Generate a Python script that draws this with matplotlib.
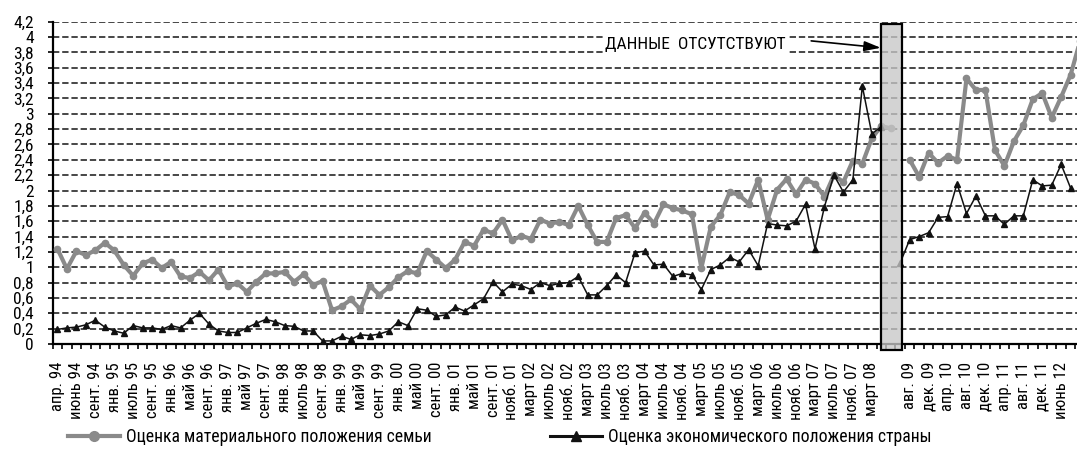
import numpy as np
import matplotlib
matplotlib.use("Agg")
import matplotlib.pyplot as plt
from matplotlib.lines import Line2D
from matplotlib.patches import Rectangle
import logging
logging.getLogger('matplotlib.font_manager').setLevel(logging.ERROR)

# ---------------- data ----------------
nan = np.nan
family_values = [
    1.24, 0.98, 1.21, 1.16, 1.22, 1.32, 1.22, 1.03, 0.89, 1.05,
    1.10, 0.99, 1.07, 0.88, 0.86, 0.94, 0.83, 0.97, 0.75, 0.79,
    0.68, 0.81, 0.92, 0.92, 0.94, 0.81, 0.91, 0.77, 0.82, 0.44,
    0.49, 0.58, 0.45, 0.76, 0.64, 0.74, 0.87, 0.95, 0.92, 1.21,
    1.10, 0.99, 1.10, 1.33, 1.28, 1.49, 1.44, 1.62, 1.35, 1.41,
    1.37, 1.62, 1.57, 1.59, 1.55, 1.80, 1.55, 1.33, 1.33, 1.64,
    1.68, 1.51, 1.71, 1.57, 1.82, 1.77, 1.74, 1.69, 0.99, 1.53,
    1.68, 1.98, 1.94, 1.83, 2.14, 1.62, 2.01, 2.15, 1.95, 2.14,
    2.09, 1.92, 2.20, 2.11, 2.39, 2.35, 2.68, 2.84, 2.81, nan,
    2.40, 2.18, 2.49, 2.36, 2.45, 2.40, 3.46, 3.31, 3.31, 2.53,
    2.32, 2.64, 2.85, 3.19, 3.27, 2.95, 3.22, 3.51, 3.95,
]
country_values = [
    0.19, 0.21, 0.22, 0.25, 0.31, 0.22, 0.17, 0.14, 0.24, 0.21,
    0.21, 0.19, 0.24, 0.21, 0.31, 0.40, 0.26, 0.17, 0.15, 0.15,
    0.21, 0.27, 0.32, 0.29, 0.24, 0.23, 0.17, 0.17, 0.04, 0.04,
    0.10, 0.06, 0.12, 0.11, 0.13, 0.17, 0.29, 0.24, 0.46, 0.44,
    0.36, 0.38, 0.48, 0.43, 0.51, 0.59, 0.81, 0.68, 0.78, 0.76,
    0.71, 0.80, 0.76, 0.79, 0.80, 0.88, 0.64, 0.64, 0.76, 0.90,
    0.80, 1.19, 1.21, 1.03, 1.04, 0.88, 0.92, 0.90, 0.71, 0.97,
    1.03, 1.13, 1.07, 1.23, 1.02, 1.57, 1.55, 1.54, 1.60, 1.82,
    1.24, 1.79, 2.20, 1.98, 2.14, 3.36, 2.74, 2.83, nan, 1.06,
    1.36, 1.40, 1.45, 1.65, 1.66, 2.09, 1.70, 1.93, 1.67, 1.67,
    1.56, 1.67, 1.67, 2.14, 2.06, 2.07, 2.34, 2.03, nan,
]
labels_before_gap = [
    'апр. 94', 'июнь 94', 'сент. 94', 'янв. 95', 'июль 95', 'сент. 95',
    'янв. 96', 'май 96', 'сент. 96', 'янв. 97', 'май 97', 'сент. 97',
    'янв. 98', 'июль 98', 'сент. 98', 'янв. 99', 'май 99', 'сент. 99',
    'янв. 00', 'май 00', 'сент. 00', 'янв. 01', 'май 01', 'сент. 01',
    'нояб. 01', 'март 02', 'июль 02', 'нояб. 02', 'март 03', 'июль 03',
    'нояб. 03', 'март 04', 'июль 04', 'нояб. 04', 'март 05', 'июль 05',
    'нояб. 05', 'март 06', 'июль 06', 'нояб. 06', 'март 07', 'июль 07',
    'нояб. 07', 'март 08',
]
labels_after_gap = ['авг. 09', 'дек. 09', 'апр. 10', 'авг. 10', 'дек. 10',
                    'апр. 11', 'авг. 11', 'дек. 11', 'июнь 12']
first_label_after_gap = 90
gap_start, gap_end = 86.95, 89.2   # survey positions covered by the "no data" bar
series_names = ['Оценка материального положения семьи',
                'Оценка экономического положения страны']
note_text = 'ДАННЫЕ  ОТСУТСТВУЮТ'
y_ticks = np.round(np.arange(0, 4.21, 0.2), 1)

# ---------------- style ----------------
FONT = ['Liberation Sans Narrow', 'Roboto Condensed', 'Open Sans Condensed',
        'DejaVu Sans Condensed', 'Liberation Sans', 'DejaVu Sans']
GREY = '#8a8a8a'
BLACK = '#111111'

W, H = 1077, 455
fig = plt.figure(figsize=(W / 100, H / 100), dpi=100)
ax = fig.add_axes([52.7 / W, 111 / H, (W - 52.7) / W, (344 - 21.7) / H])

x = np.arange(len(family_values))
ax.plot(x, family_values, color=GREY, lw=3.0, marker='o', ms=4.5,
        solid_joinstyle='round', zorder=3)
ax.plot(x, country_values, color=BLACK, lw=1.1, marker='^', ms=5, zorder=4)

ax.set_xlim(-0.5, 107.67)
ax.set_ylim(0, 4.2)

# gridlines / y ticks
ax.set_yticks(y_ticks)
ax.set_yticklabels([('%g' % v).replace('.', ',') for v in y_ticks],
                   fontfamily=FONT, fontsize=12.5)
ax.yaxis.grid(True, linestyle=(0, (3.5, 1.6)), color='#383838', lw=1.3, zorder=1)
ax.set_axisbelow(True)

# x ticks
pos1 = np.arange(0, 2 * len(labels_before_gap), 2)
pos2 = first_label_after_gap + np.arange(0, 2 * len(labels_after_gap), 2)
ax.set_xticks(np.concatenate([pos1, pos2]))
ax.set_xticklabels(labels_before_gap + labels_after_gap, rotation=90,
                   fontfamily=FONT, fontsize=12, va='top', ha='center')
ax.set_xticks(np.arange(-0.5, 108, 1.0), minor=True)
ax.tick_params(axis='x', which='major', length=0, pad=13)
ax.tick_params(axis='x', which='minor', length=3.5, width=1.2, direction='out', color='black')
ax.tick_params(axis='y', length=3.5, width=1.2, direction='out', pad=10)

for s in ['top', 'right']:
    ax.spines[s].set_visible(False)
for s in ['left', 'bottom']:
    ax.spines[s].set_linewidth(1.6)
    ax.spines[s].set_color('black')

# no-data bar
rect = Rectangle((gap_start, -0.08), gap_end - gap_start, 4.25,
                 facecolor=(0.78, 0.78, 0.78, 0.78), edgecolor='black',
                 lw=1.6, zorder=6, clip_on=False)
ax.add_patch(rect)

# annotation
ax.text(57.8, 3.8, note_text, fontfamily=FONT, fontsize=12.5,
        ha='left', va='bottom', zorder=7,
        bbox=dict(facecolor='white', edgecolor='none', pad=1.0))
ax.annotate('', xy=(gap_start, 3.86), xytext=(79.6, 3.95),
            arrowprops=dict(arrowstyle='-|>,head_length=1.0,head_width=0.3',
                            color='black', lw=1.2, shrinkA=0, shrinkB=0),
            zorder=8)

# legends
fs = 12.7
fpx = fs * 100 / 72
h1 = Line2D([], [], color=GREY, lw=3.0, marker='o', ms=7)
h2 = Line2D([], [], color=BLACK, lw=2.2, marker='^', ms=7)
for h, name, xl in [(h1, series_names[0], 68), (h2, series_names[1], 550)]:
    fig.legend([h], [name], loc='center left', bbox_to_anchor=(xl / W, 18 / H),
               frameon=False, borderpad=0, borderaxespad=0,
               handlelength=52 / fpx, handletextpad=6 / fpx,
               prop=dict(family=FONT, size=fs))

fig.savefig('out.png', dpi=100)
